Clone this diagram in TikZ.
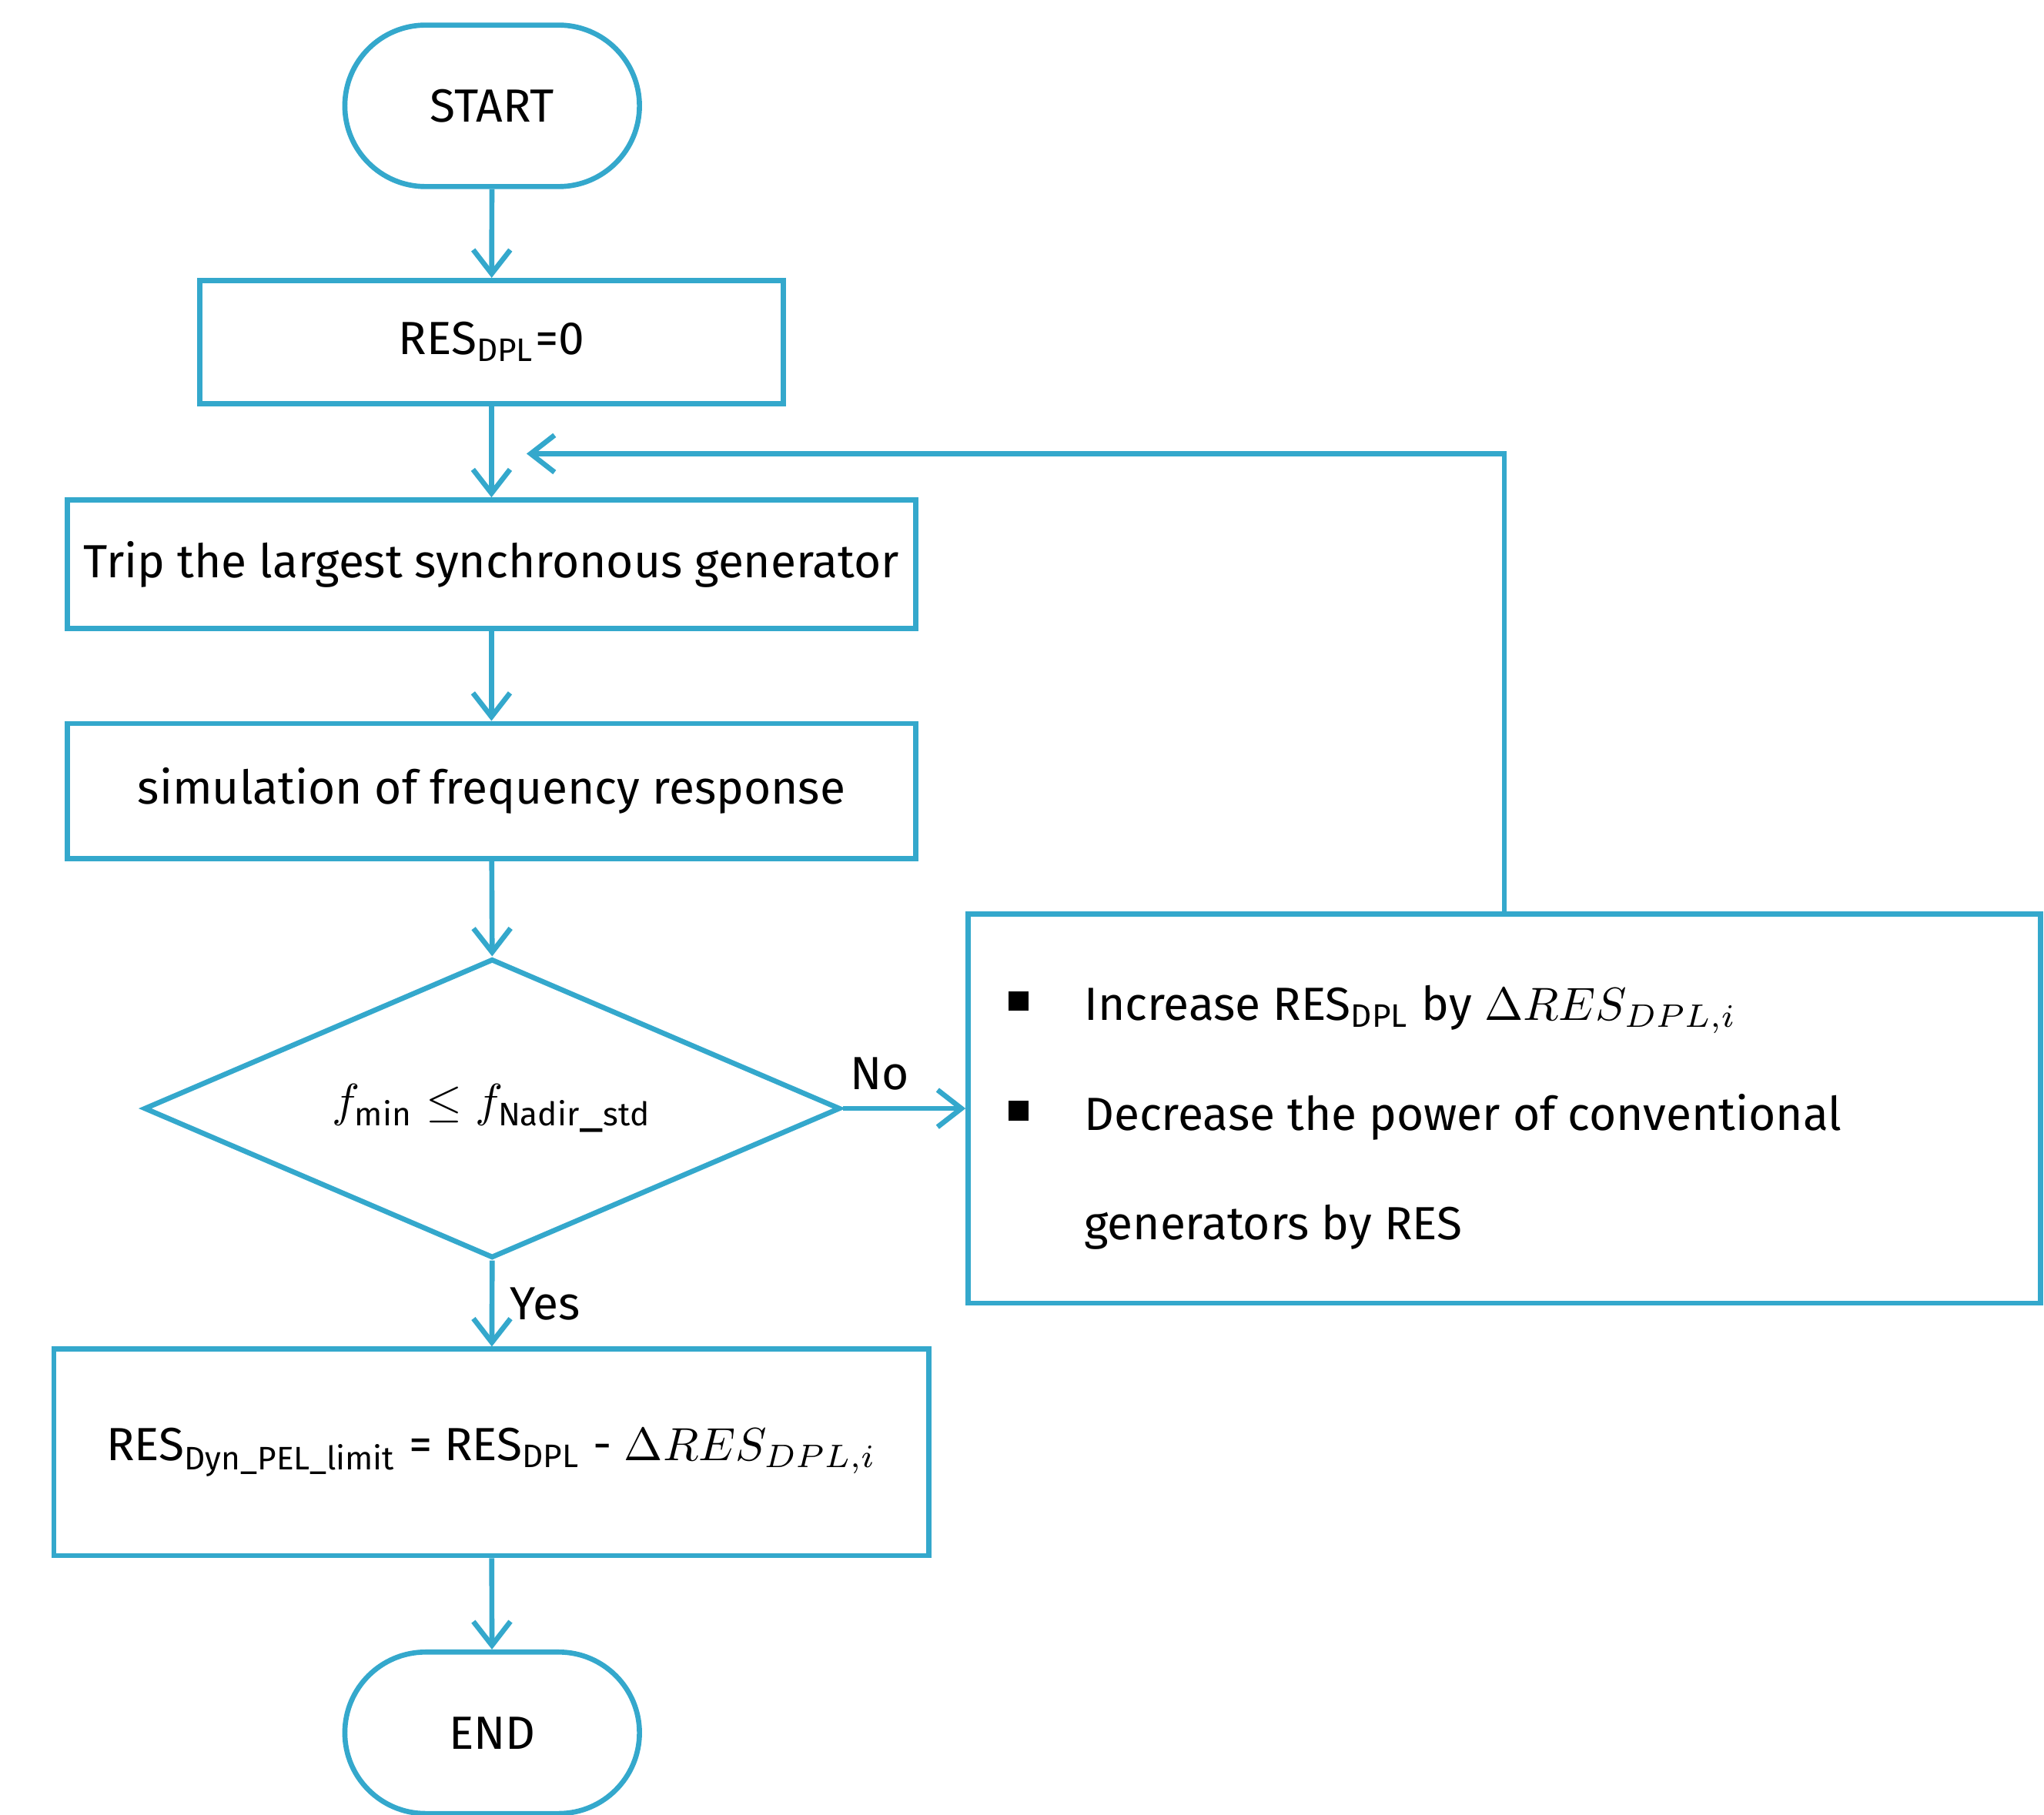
\documentclass[tikz,border=0pt]{standalone}
\usepackage{fontspec}
\setmainfont{Fira Sans}
\usetikzlibrary{shapes.geometric,shapes.misc,arrows.meta}
\definecolor{flowblue}{RGB}{52,168,204}
\tikzset{
  box/.style={draw=flowblue, line width=1.1pt, rectangle, inner sep=0pt},
  term/.style={draw=flowblue, line width=1.1pt, rounded rectangle, minimum width=2.46cm, minimum height=1.22cm},
  flow/.style={draw=flowblue, line width=1.1pt, -{Straight Barb[length=1.8mm,width=2.8mm]}}
}
\begin{document}
\begin{tikzpicture}[x=0.01cm,y=-0.01cm,font=\fontsize{10}{12}\selectfont]
\useasboundingbox (0,0) rectangle (1545,1372);
\node[term] (start) at (372,80) {START};
\node[box, minimum width=4.41cm, minimum height=0.93cm] (init) at (371.5,258.5) {RES\textsubscript{DPL}=0};
\node[box, minimum width=6.41cm, minimum height=0.97cm] (trip) at (371.5,426.5) {Trip the largest synchronous generator};
\node[box, minimum width=6.41cm, minimum height=1.02cm] (sim) at (371.5,598) {simulation of frequency response};
\node[diamond, aspect=2.32, draw=flowblue, line width=1.1pt, minimum width=5.26cm, minimum height=2.26cm, inner sep=0pt] (check) at (372,838) {$f_{\mathrm{min}} \leq f_{\mathrm{Nadir\_std}}$};
\node[box, minimum width=8.1cm, minimum height=2.94cm] (incr) at (1137,838) {};
\node[anchor=west, align=left] (incrtext) at (750,845) {%
  \rule[0.4ex]{0.8ex}{0.8ex}\hspace{1.2em}Increase RES\textsubscript{DPL} by $\Delta RES_{DPL,i}$\\[2.2ex]
  \rule[0.4ex]{0.8ex}{0.8ex}\hspace{1.2em}Decrease the power of conventional\\[2.2ex]
  \hspace{0.8ex}\hspace{1.2em}generators by RES};
\node[box, minimum width=6.61cm, minimum height=1.56cm] (result) at (371.5,1098) {RES\textsubscript{Dyn\_PEL\_limit} = RES\textsubscript{DPL} - $\Delta RES_{DPL,i}$};
\node[term] (end) at (372,1310) {END};
\coordinate (loop) at (1137,343);
\coordinate (entry) at (398,343);
% main flow
\draw[flow] (start) -- (init);
\draw[flow] (init) -- (trip);
\draw[flow] (trip) -- (sim);
\draw[flow] (sim) -- (check.north);
\draw[flow] (check.east) -- node[above, pos=0.3] {No} (incr.west);
\draw[flow] (check.south) -- node[right, pos=0.5] {Yes} (result);
\draw[flow] (result) -- (end);
% loop back
\draw[flow] (incr.north) -- (loop) -- (entry);
\end{tikzpicture}
\end{document}
